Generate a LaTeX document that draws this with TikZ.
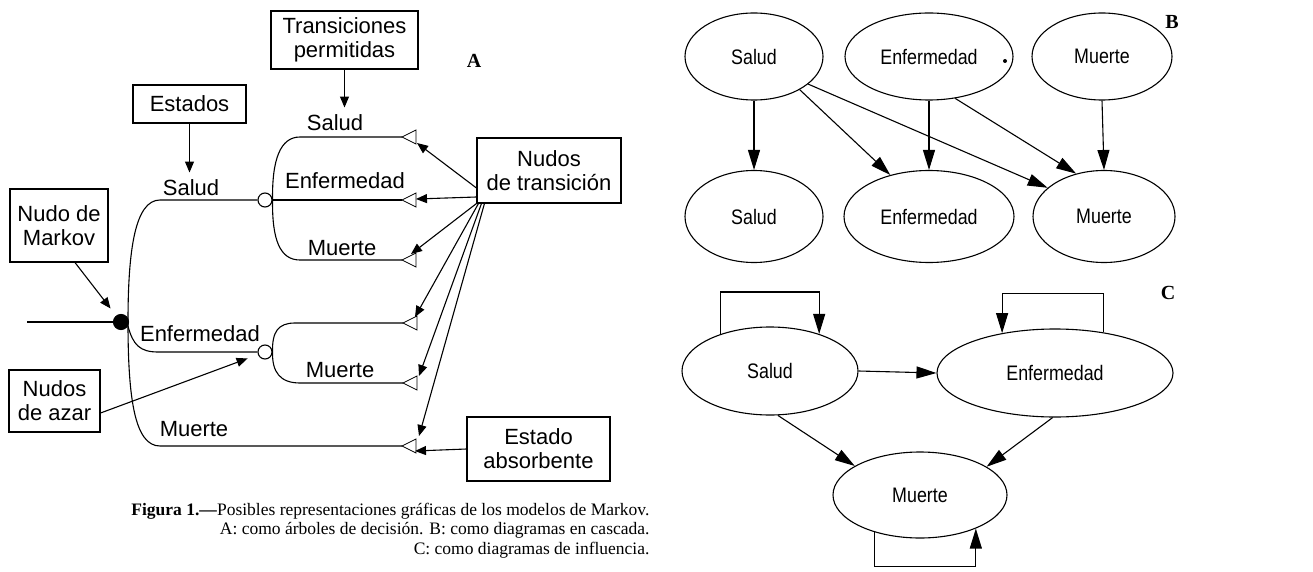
\documentclass[tikz,border=0pt]{standalone}
\usepackage{fontspec}
\setmainfont{Liberation Serif}
\newfontfamily\helv{Liberation Sans}
\newfontfamily\helvn[FakeStretch=0.85]{Liberation Sans}
\usetikzlibrary{arrows.meta,shapes.geometric,calc}
\tikzset{
  tri/.pic={\draw[fill=white, line width=0.8pt] (0,0) -- (14,-7) -- (14,7) -- cycle;},
  box/.style={draw, font=\helv\fontsize{22}{24}\selectfont, align=center, inner sep=0pt},
  lbl/.style={font=\helv\fontsize{22}{24}\selectfont, anchor=base, inner sep=0pt},
  ell/.style={draw, ellipse, inner sep=0pt, font=\helvn\fontsize{21}{23}\selectfont},
  arrA/.style={-{Triangle[length=11pt,width=9pt]}},
  arrB/.style={-{Triangle[length=20pt,width=12pt]}},
  panel/.style={font=\bfseries\fontsize{20}{22}\selectfont, inner sep=0pt},
  capt/.style={font=\fontsize{17.5}{19.6}\selectfont, anchor=base east, inner sep=0pt},
}
\begin{document}
\begin{tikzpicture}[x=1pt,y=-1pt, line width=1.1pt]
\useasboundingbox (0,0) rectangle (1313,572);

% ---------------- Panel A ----------------
\node[box, minimum width=147pt, minimum height=58pt] (tp) at (344.5,40) {Transiciones\\permitidas};
\node[box, minimum width=113pt, minimum height=38pt] (est) at (189.5,104) {Estados};
\node[box, minimum width=98pt, minimum height=73pt] (nm) at (59,225.5) {Nudo de\\Markov};
\node[box, minimum width=91pt, minimum height=62pt] (na) at (54.5,401) {Nudos\\de azar};
\node[box, minimum width=144pt, minimum height=65pt] (nt) at (549,170.5) {Nudos\\de transición};
\node[box, minimum width=143pt, minimum height=64pt] (ea) at (538.5,449) {Estado\\absorbente};
\node[panel] (pA) at (474,61) {A};

% labels
\node[lbl] (ls0) at (191,195) {Salud};
\node[lbl] (ls1) at (335,131) {Salud};
\node[lbl] (le1) at (345,188) {Enfermedad};
\node[lbl] (lm1) at (342,255) {Muerte};
\node[lbl] (le0) at (200,341) {Enfermedad};
\node[lbl] (lm2) at (340,377) {Muerte};
\node[lbl] (lm0) at (194,436) {Muerte};

% nodes
\node[circle, draw, fill, minimum size=15pt, inner sep=0pt] (mk) at (121,322) {};
\coordinate (in) at (27,322);
\node[circle, draw, fill=white, minimum size=14pt, inner sep=0pt] (c1) at (265,200) {};
\node[circle, draw, fill=white, minimum size=14pt, inner sep=0pt] (c2) at (265,352) {};

% triangle positions
\coordinate (t1) at (402,137);
\coordinate (t2) at (402,200);
\coordinate (t3) at (402,260);
\coordinate (t4) at (403,323);
\coordinate (t5) at (403,383);
\coordinate (t6) at (402,446);

% tree lines
\draw (in) -- (mk);
\draw (c1.west) -- (160,200) .. controls (135,200) and (128,250) .. (128,322)
      .. controls (128,400) and (135,446) .. (160,446) -- (t6);
\draw (mk.-30) .. controls (133,345) and (140,352) .. (158,352) -- (c2.west);
\draw (c1.east) .. controls (272,160) and (280,137) .. (300,137) -- (t1);
\draw (c1.east) -- (t2);
\draw (c1.east) .. controls (272,240) and (280,260) .. (300,260) -- (t3);
\draw (c2.east) .. controls (272,332) and (278,323) .. (295,323) -- (t4);
\draw (c2.east) .. controls (272,372) and (280,383) .. (300,383) -- (t5);
\foreach \t in {t1,t2,t3,t4,t5,t6} \pic at (\t) {tri};

% arrow end points at the triangles
\coordinate (e1) at (417,143);
\coordinate (e2) at (416,199);
\coordinate (e3) at (411,254);
\coordinate (e4) at (415,317);
\coordinate (e5) at (419,376);
\coordinate (e6) at (419,436);
\coordinate (e7) at (415,451);

% annotation arrows
\draw[arrA, shorten >=7pt] (tp.south) -- (tp.south |- ls1.north);
\draw[arrA, shorten >=6pt] (est.south) -- (est.south |- ls0.north);
\draw[arrA, shorten >=9pt] ([xshift=16pt]nm.south) -- (mk);
\draw[arrA, shorten >=11pt] ([yshift=-12pt]na.east) -- (c2);
\draw[arrA] ([yshift=-17.5pt]nt.west) -- (e1);
\draw[arrA] ([yshift=-26.5pt]nt.west) -- (e2);
\draw[arrA] (nt.south west) -- (e3);
\draw[arrA] ([xshift=2pt]nt.south west) -- (e4);
\draw[arrA] ([xshift=5pt]nt.south west) -- (e5);
\draw[arrA] ([xshift=8pt]nt.south west) -- (e6);
\draw[arrA] (ea.west) -- (e7);

% caption
\node[capt] (cap1) at (650,515) {\textbf{Figura 1.—}Posibles representaciones gráficas de los modelos de Markov.};
\node[capt] (cap2) at (650,534) {A: como árboles de decisión. B: como diagramas en cascada.};
\node[capt] (cap3) at (650,554) {C: como diagramas de influencia.};

% ---------------- Panel B ----------------
\node[ell, minimum width=138pt, minimum height=87pt] (bs1) at (754,56.5) {Salud};
\node[ell, minimum width=168pt, minimum height=87pt] (be1) at (929,56.5) {Enfermedad};
\node[ell, minimum width=140pt, minimum height=87pt] (bm1) at (1102,56.5) {Muerte};
\node[ell, minimum width=138pt, minimum height=92pt] (bs2) at (754,216.5) {Salud};
\node[ell, minimum width=170pt, minimum height=92pt] (be2) at (929,216.5) {Enfermedad};
\node[ell, minimum width=142pt, minimum height=92pt] (bm2) at (1104,216.5) {Muerte};
\node[panel] (pB) at (1172,22) {B};
\fill (1005,61) circle (2pt);

\draw[arrB] (bs1.south) -- (bs2.north);
\draw[arrB] (bs1.-36) -- (be2.133);
\draw[arrB] (bs1.-27) -- (bm2.153);
\draw[arrB] (be1.south) -- (be2.north);
\draw[arrB] (be1.-58) -- (bm2.123);
\draw[arrB] (bm1.south) -- (bm2.north);

% ---------------- Panel C ----------------
\node[ell, minimum width=176pt, minimum height=88pt] (cs) at (770,371) {Salud};
\node[ell, minimum width=236pt, minimum height=88pt] (ce) at (1055,373) {Enfermedad};
\node[ell, minimum width=174pt, minimum height=86pt] (cm) at (920,495) {Muerte};
\node[panel] (pC) at (1168,293) {C};

\draw[arrB] (cs.east) -- (ce.west);
\draw[arrB] (cs.-80) -- (cm.156);
\draw[arrB] (ce.-93) -- (cm.23);
\draw[arrB] (cs.143) |- ([yshift=42pt]cs.37) -- (cs.37);
\draw[arrB] (ce.40) |- ([yshift=40pt]ce.143) -- (ce.143);
\draw[arrB] (cm.-141) |- ([yshift=-38pt]cm.-31) -- (cm.-31);
\end{tikzpicture}
\end{document}
